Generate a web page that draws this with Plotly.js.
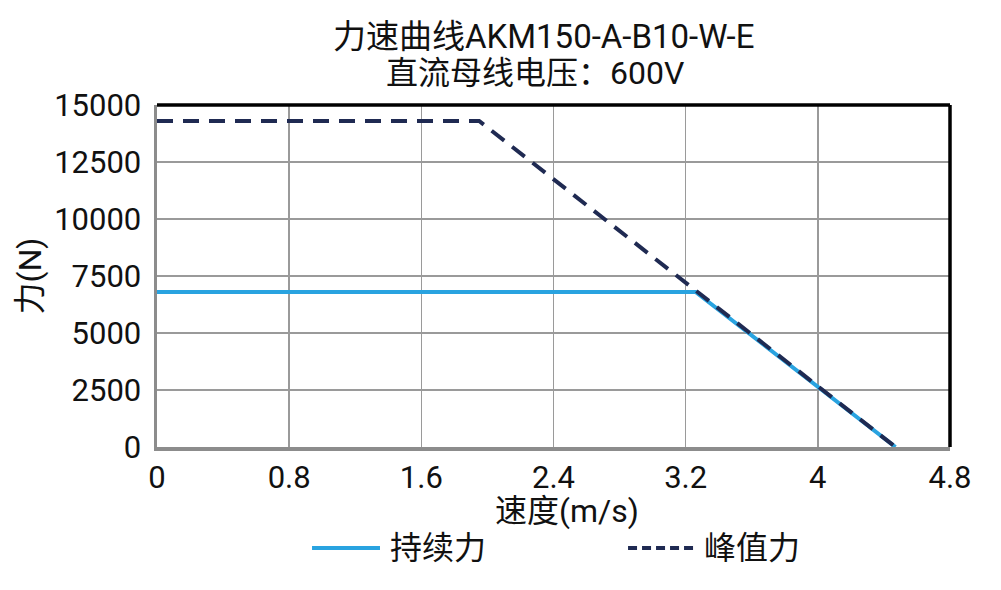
<!DOCTYPE html>
<html>
<head>
<meta charset="utf-8">
<script src="https://cdn.plot.ly/plotly-3.0.1.min.js"></script>
<style>
  html, body {margin:0; padding:0; background:#fff;}
  #chart {width:1001px; height:590px;}
</style>
</head>
<body>
<div id="chart"></div>
<script>

// speed (m/s) and force (N)
var contSpeed = [0, 3.26, 4.47]
var contForce = [6800, 6800, 0]

var peakSpeed = [0, 1.95, 4.47]
var peakForce = [14300, 14300, 0]

var seriesNames = ['持续力', '峰值力']
var seriesColors = ['#29a3e0', '#1f2a52']

var xTicks = [0, 0.8, 1.6, 2.4, 3.2, 4, 4.8]
var yTicks = [0, 2500, 5000, 7500, 10000, 12500, 15000]

var titleLines = ['力速曲线AKM150-A-B10-W-E', '直流母线电压：600V']
var xTitle = '速度(m/s)'
var yTitle = '力(N)'

var font = 'Roboto, "Noto Sans CJK SC", sans-serif'
var txt = '#111'

var traces = [
    {
        x: contSpeed,
        y: contForce,
        name: seriesNames[0],
        mode: 'lines',
        type: 'scatter',
        line: {color: seriesColors[0], width: 4},
    },
    {
        x: peakSpeed,
        y: peakForce,
        name: seriesNames[1],
        mode: 'lines',
        type: 'scatter',
        line: {color: seriesColors[1], width: 4, dash: '16px,10px'},
    },
]

// legend drawn by hand so the key lines are as long as in the original
var legendKeys = [
    {x0: 0.1955, x1: 0.2812, tx: 0.2913, dash: 'solid'},
    {x0: 0.594, x1: 0.681, tx: 0.687, dash: '9px,5px'},
]
var legendY = -0.295

var shapes = [
    // black frame on top and right
    {type: 'line', xref: 'paper', yref: 'paper', x0: 0, x1: 1, y0: 1, y1: 1,
     line: {color: '#000', width: 3.5}},
    {type: 'line', xref: 'paper', yref: 'paper', x0: 1, x1: 1, y0: 0, y1: 1,
     line: {color: '#000', width: 3.5}},
]
var annotations = [
    {text: titleLines[0], xref: 'paper', yref: 'paper', x: 0.487, y: 1.199,
     xanchor: 'center', yanchor: 'middle', showarrow: false,
     font: {family: font, size: 33, color: txt}},
    {text: titleLines[1], xref: 'paper', yref: 'paper', x: 0.477, y: 1.094,
     xanchor: 'center', yanchor: 'middle', showarrow: false,
     font: {family: font, size: 32, color: txt}},
    // x axis title sits a little right of centre in the original
    {text: xTitle, xref: 'paper', yref: 'paper', x: 0.5164, y: -0.187,
     xanchor: 'center', yanchor: 'middle', showarrow: false,
     font: {family: font, size: 32, color: txt}},
]
for (var i=0;i<legendKeys.length;i++) {
    var k = legendKeys[i]
    shapes.push({type: 'line', xref: 'paper', yref: 'paper', x0: k.x0, x1: k.x1, y0: legendY, y1: legendY,
                 line: {color: seriesColors[i], width: 4, dash: k.dash}})
    annotations.push({text: seriesNames[i], xref: 'paper', yref: 'paper', x: k.tx, y: legendY,
                      xanchor: 'left', yanchor: 'middle', showarrow: false,
                      font: {family: font, size: 32, color: txt}})
}

var layout = {
    width: 1001,
    height: 590,
    paper_bgcolor: '#fff',
    plot_bgcolor: '#fff',
    font: {family: font, color: txt, size: 30},
    margin: {l: 157, r: 51, t: 105, b: 143, autoexpand: false},
    showlegend: false,
    xaxis: {
        range: [0, 4.8],
        tickvals: xTicks,
        ticktext: xTicks.map(String),
        showgrid: true,
        gridcolor: '#9a9a9a',
        gridwidth: 1.5,
        zeroline: false,
        showline: true,
        linecolor: '#8c8c8c',
        linewidth: 3.5,
        ticks: '',
        tickfont: {family: font, size: 31, color: txt},
        fixedrange: true,
    },
    yaxis: {
        range: [0, 15000],
        tickvals: yTicks,
        tickformat: 'd',
        showgrid: true,
        gridcolor: '#9a9a9a',
        gridwidth: 1.5,
        zeroline: false,
        showline: true,
        linecolor: '#8c8c8c',
        linewidth: 3.5,
        ticks: '',
        ticklabelstandoff: 6,
        tickfont: {family: font, size: 31, color: txt},
        title: {text: yTitle, font: {family: font, size: 32, color: txt}, standoff: 4},
        fixedrange: true,
    },
    shapes: shapes,
    annotations: annotations,
}

Plotly.newPlot('chart', traces, layout, {displayModeBar: false, staticPlot: true})

</script>
</body>
</html>
